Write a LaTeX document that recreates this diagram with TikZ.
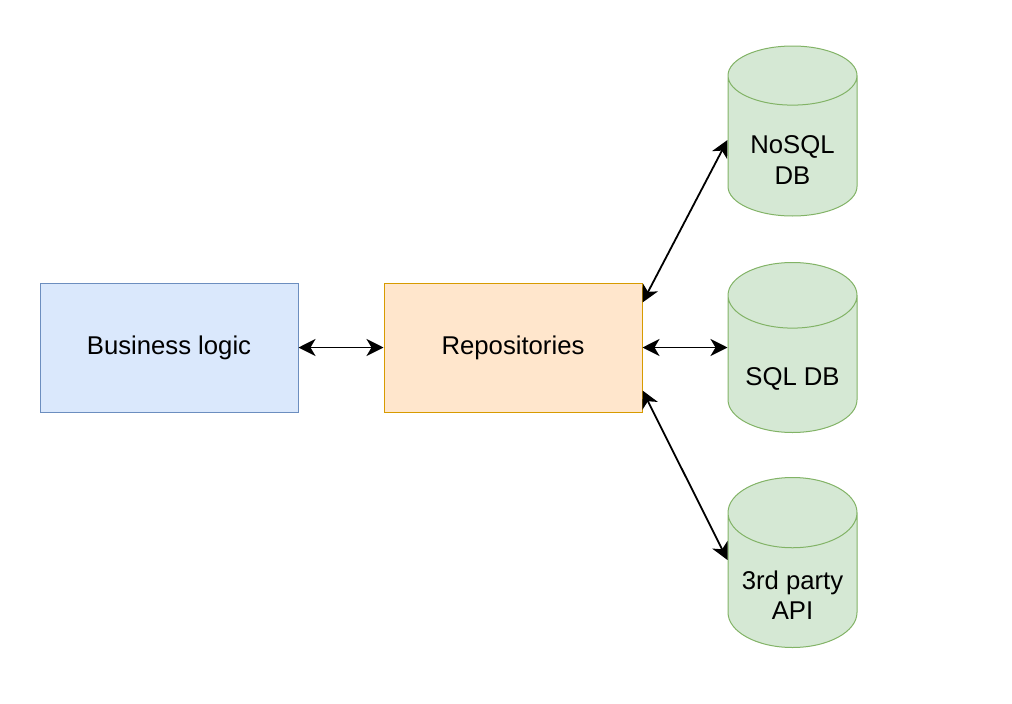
\documentclass[tikz,border=0pt]{standalone}
\usepackage{fontspec}
\setmainfont{Liberation Sans}
\usetikzlibrary{shapes.geometric,arrows.meta,calc}

\definecolor{bizfill}{HTML}{DAE8FC}
\definecolor{bizdraw}{HTML}{6C8EBF}
\definecolor{repofill}{HTML}{FFE6CC}
\definecolor{repodraw}{HTML}{D79B00}
\definecolor{dbfill}{HTML}{D5E8D4}
\definecolor{dbdraw}{HTML}{82B366}

\newcommand{\dbgap}{\rule{0pt}{37pt}}

\tikzset{
  layerbox/.style={rectangle, minimum width=258pt, minimum height=129pt, line width=1pt},
  store/.style={cylinder, shape border rotate=90, aspect=0.65, draw=dbdraw, fill=dbfill,
    line width=1pt, minimum width=129pt, minimum height=170pt, align=center, anchor=shape center},
  link/.style={{Stealth[length=17pt,width=17pt,inset=5pt]}-{Stealth[length=17pt,width=17pt,inset=5pt]}, line width=1.8pt},
}

\begin{document}
\begin{tikzpicture}[x=1pt,y=-1pt, font=\fontsize{25.7}{30.5}\selectfont]
  \useasboundingbox (0,0) rectangle (1012,704);
  % boxes
  \node[layerbox, draw=bizdraw, fill=bizfill] (biz) at (169,347.5) {Business logic};
  \node[layerbox, draw=repodraw, fill=repofill] (repo) at (513,347.5) {Repositories};
  % data stores
  \node[store] (nosql) at (792.5,131) {\dbgap NoSQL\\DB};
  \node[store] (sql) at (792.5,347.5) {\dbgap SQL DB};
  \node[store] (api) at (792.5,562.5) {\dbgap 3rd party\\API};
  % connectors
  \draw[link] (biz.east) -- (repo.west);
  \draw[link] (repo.east) -- (sql.west |- sql.shape center);
  \draw[link] ([yshift=-20pt]repo.north east) -- ($(nosql.west |- nosql.shape center)+(0,9)$);
  \draw[link] ([yshift=22pt]repo.south east) -- ($(api.west |- api.shape center)+(0,-2.5)$);
\end{tikzpicture}
\end{document}
